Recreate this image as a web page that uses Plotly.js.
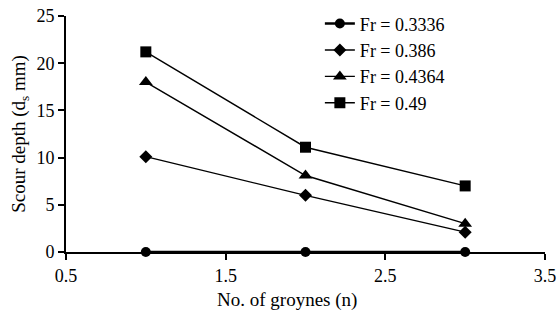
<!DOCTYPE html>
<html>
<head>
<meta charset="utf-8">
<script src="https://cdn.plot.ly/plotly-3.0.1.min.js"></script>
<style>html,body{margin:0;padding:0;background:#fff;}#chart{width:557px;height:320px;}</style>
</head>
<body>
<div id="chart"></div>
<script>
const groynes = [1, 2, 3];
const seriesNames = ["Fr = 0.3336", "Fr = 0.386", "Fr = 0.4364", "Fr = 0.49"];
const fr03336 = [0, 0, 0];
const fr0386 = [10.1, 6.0, 2.1];
const fr04364 = [18.0, 8.1, 3.0];
const fr049 = [21.2, 11.1, 7.0];
const xTickVals = [0.5, 1.5, 2.5, 3.5];
const yTickVals = [0, 5, 10, 15, 20, 25];
const xTitle = "No. of groynes (n)";
const yTitle = "Scour depth (d<sub>s</sub> mm)";

const symbols = ["circle", "diamond", "triangle-up", "square"];
const sizes = [10, 10, 12, 11];
const data = [fr03336, fr0386, fr04364, fr049].map((ys, i) => ({
  x: groynes, y: ys, name: seriesNames[i], type: "scatter", mode: "lines+markers",
  line: {color: "#000", width: i === 0 ? 2.5 : 1.4},
  marker: {symbol: symbols[i], size: sizes[i], color: "#000"},
  cliponaxis: false
}));

const fam = "Liberation Serif, Times New Roman, serif";
const tickFont = {family: fam, size: 18, color: "#000"};
const titleFont = {family: fam, size: 19, color: "#000"};
const legendFont = {family: fam, size: 18, color: "#000"};
const layout = {
  width: 557, height: 320,
  margin: {l: 66, r: 12, t: 16, b: 68, autoexpand: false},
  paper_bgcolor: "#fff", plot_bgcolor: "#fff",
  font: tickFont,
  showlegend: true,
  legend: {x: 0.53, y: 1.045, xanchor: "left", yanchor: "top", bgcolor: "rgba(0,0,0,0)",
    font: legendFont, tracegroupgap: 0, itemwidth: 30},
  xaxis: {range: [0.5, 3.5], tickvals: xTickVals, ticktext: xTickVals.map(v => v.toFixed(1)),
    showgrid: false, zeroline: false, showline: true, linecolor: "#000", linewidth: 2,
    ticks: "outside", ticklen: 6, tickwidth: 2, tickcolor: "#000", tickfont: tickFont},
  yaxis: {range: [0, 25], tickvals: yTickVals, showgrid: false, zeroline: false,
    showline: true, linecolor: "#000", linewidth: 2,
    ticks: "outside", ticklen: 6, tickwidth: 2, tickcolor: "#000", tickfont: tickFont,
    title: {text: yTitle, font: titleFont, standoff: 6}},
  annotations: [{text: xTitle, xref: "paper", yref: "paper", x: 0.461, y: -0.203,
    xanchor: "center", yanchor: "middle", showarrow: false, font: titleFont}]
};
Plotly.newPlot("chart", data, layout, {staticPlot: true, displayModeBar: false});
</script>
</body>
</html>
